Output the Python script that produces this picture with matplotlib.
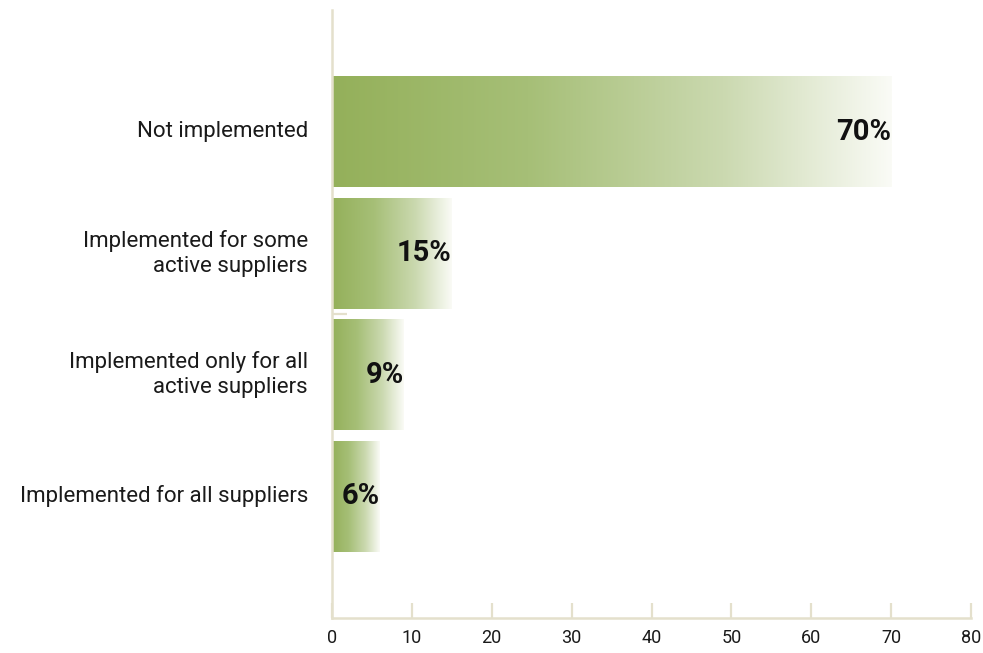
import numpy as np
import matplotlib
matplotlib.use("Agg")
import matplotlib.pyplot as plt
from matplotlib.colors import LinearSegmentedColormap

# data
categories = ["Not implemented",
              "Implemented for some\nactive suppliers",
              "Implemented only for all\nactive suppliers",
              "Implemented for all suppliers"]
values = [70, 15, 9, 6]
value_labels = ["70%", "15%", "9%", "6%"]
x_ticks = [0, 10, 20, 30, 40, 50, 60, 70, 80]

plt.rcParams['font.family'] = ['Roboto', 'DejaVu Sans']
axis_col = "#e4e0cc"
green = "#94b05a"

fig = plt.figure(figsize=(9.83, 6.53), dpi=100)
ax = fig.add_axes([332/983, 35/653, 639/983, 608/653])

# gradient green -> white along each bar
cmap = LinearSegmentedColormap.from_list("g", [(0, green), (0.35, "#a6bf77"), (0.7, "#cbd9b0"), (1, "#fafbf6")])
grad = np.linspace(0, 1, 256).reshape(1, -1)

ypos = np.arange(len(values))[::-1]
bars = ax.barh(ypos, values, height=0.91, color="none", edgecolor="none", zorder=2)
for b, v in zip(bars, values):
    im = ax.imshow(grad, cmap=cmap, aspect="auto", zorder=2,
                   extent=[0, v, b.get_y(), b.get_y() + b.get_height()])
    im.set_clip_path(b)

for y, v, lab in zip(ypos, values, value_labels):
    ax.text(v, y, lab, ha="right", va="center", fontsize=21, fontweight="bold", color="#111111", zorder=3)

ax.set_xlim(0, 80)
ax.set_ylim(-1, len(values))
ax.set_xticks(x_ticks)
ax.set_xticklabels([str(t) for t in x_ticks], fontsize=13, color="#1a1a1a")
ax.set_yticks([1.5])
ax.set_yticklabels([""])
ax.tick_params(axis="x", direction="in", length=11, width=1.6, color=axis_col, pad=8)
ax.tick_params(axis="y", direction="in", length=11, width=1.6, color=axis_col)

for y, c in zip(ypos, categories):
    ax.text(-3, y, c, ha="right", va="center", fontsize=16, color="#1a1a1a",
            linespacing=1.25, transform=ax.transData)

for s in ["top", "right"]:
    ax.spines[s].set_visible(False)
for s in ["left", "bottom"]:
    ax.spines[s].set_color(axis_col)
    ax.spines[s].set_linewidth(1.8)

ax.set_facecolor("white")
fig.savefig("out.png", dpi=100)
